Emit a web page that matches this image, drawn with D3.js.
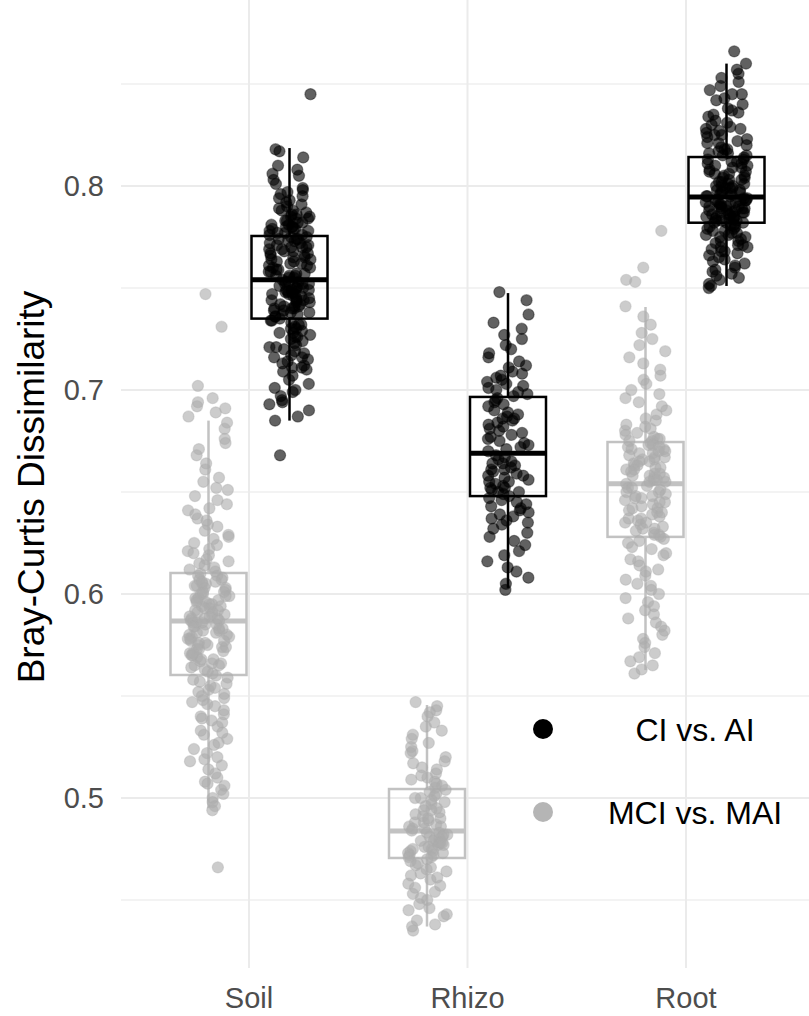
<!DOCTYPE html>
<html>
<head>
<meta charset="utf-8">
<script src="https://cdn.jsdelivr.net/npm/d3@7.9.0/dist/d3.min.js"></script>
<style>
  body { margin: 0; background: #fff; }
  svg { display: block; font-family: "Liberation Sans", Arial, sans-serif; }
</style>
</head>
<body>
<svg id="chart" width="809" height="1016"></svg>
<script>
const categories = ["Soil", "Rhizo", "Root"];
const groups = ["CI vs. AI", "MCI vs. MAI"];
const yTicks = [0.5, 0.6, 0.7, 0.8];
const yMinor = [0.45, 0.55, 0.65, 0.75, 0.85];

// box summaries (Soil, Rhizo, Root)
const ciLow = [0.685, 0.603, 0.751];
const ciQ1 = [0.735, 0.648, 0.782];
const ciMed = [0.754, 0.669, 0.7946];
const ciQ3 = [0.7755, 0.6966, 0.8142];
const ciHigh = [0.8186, 0.7475, 0.860];

const mciLow = [0.495, 0.437, 0.5627];
const mciQ1 = [0.5603, 0.4706, 0.628];
const mciMed = [0.5868, 0.4838, 0.654];
const mciQ3 = [0.6103, 0.5044, 0.6745];
const mciHigh = [0.685, 0.5456, 0.7407];

// individual pairwise dissimilarities (jittered points)
const soilMCI = [0.747, 0.731, 0.702, 0.696, 0.694, 0.692, 0.691, 0.689, 0.687, 0.684, 0.681, 0.676, 0.674, 0.671, 0.668, 0.664, 0.661, 0.657, 0.655, 0.652, 0.651, 0.648, 0.646, 0.644, 0.642, 0.641, 0.639, 0.637, 0.636, 0.634, 0.633, 0.631, 0.629, 0.628, 0.627, 0.625, 0.624, 0.622, 0.621, 0.620, 0.619, 0.617, 0.616, 0.615, 0.614, 0.613, 0.612, 0.611,
  0.610, 0.609, 0.609, 0.608, 0.607, 0.607, 0.606, 0.605, 0.605, 0.604, 0.603, 0.603, 0.602, 0.601, 0.601, 0.600, 0.600, 0.599, 0.598, 0.598, 0.597, 0.596, 0.596, 0.595, 0.595, 0.594, 0.593, 0.593, 0.592, 0.592, 0.591, 0.591, 0.590, 0.590, 0.589, 0.589, 0.588, 0.588, 0.588, 0.587, 0.587, 0.604, 0.599, 0.594, 0.606, 0.597,
  0.586, 0.586, 0.585, 0.585, 0.584, 0.584, 0.583, 0.582, 0.582, 0.581, 0.580, 0.580, 0.579, 0.578, 0.578, 0.577, 0.576, 0.576, 0.575, 0.574, 0.573, 0.573, 0.572, 0.571, 0.570, 0.570, 0.569, 0.568, 0.567, 0.566, 0.566, 0.565, 0.564, 0.563, 0.562, 0.561, 0.583, 0.579, 0.574, 0.568, 0.575, 0.581, 0.571, 0.565, 0.577, 0.586,
  0.560, 0.559, 0.558, 0.557, 0.556, 0.555, 0.553, 0.552, 0.551, 0.549, 0.548, 0.546, 0.545, 0.543, 0.541, 0.540, 0.538, 0.537, 0.535, 0.533, 0.531, 0.529, 0.527, 0.526, 0.524, 0.522, 0.520, 0.518, 0.516, 0.514, 0.512, 0.510, 0.508, 0.506, 0.504, 0.502, 0.500, 0.498, 0.496, 0.494, 0.466, 0.554, 0.547, 0.539, 0.532, 0.519, 0.507, 0.550];

const soilCI = [0.845, 0.818, 0.817, 0.814, 0.810, 0.808, 0.806, 0.805, 0.803, 0.801, 0.799, 0.797, 0.796, 0.794, 0.793, 0.791, 0.790, 0.789, 0.788, 0.787, 0.786, 0.785, 0.784, 0.784, 0.783, 0.782, 0.781, 0.781, 0.780, 0.780, 0.779, 0.779, 0.778, 0.778, 0.777, 0.777, 0.776, 0.776, 0.792, 0.786, 0.782, 0.798, 0.788, 0.783, 0.779, 0.795, 0.785, 0.780,
  0.775, 0.775, 0.774, 0.774, 0.773, 0.773, 0.772, 0.771, 0.771, 0.770, 0.770, 0.769, 0.768, 0.768, 0.767, 0.766, 0.766, 0.765, 0.764, 0.764, 0.763, 0.762, 0.762, 0.761, 0.760, 0.760, 0.759, 0.759, 0.758, 0.757, 0.757, 0.756, 0.756, 0.755, 0.755, 0.754, 0.772, 0.769, 0.765, 0.761, 0.758, 0.774, 0.767, 0.763, 0.756, 0.770,
  0.753, 0.753, 0.752, 0.752, 0.751, 0.751, 0.750, 0.750, 0.749, 0.749, 0.748, 0.748, 0.747, 0.747, 0.746, 0.745, 0.745, 0.744, 0.744, 0.743, 0.742, 0.742, 0.741, 0.741, 0.740, 0.740, 0.739, 0.739, 0.738, 0.737, 0.737, 0.736, 0.736, 0.735, 0.752, 0.749, 0.746, 0.743, 0.740, 0.738, 0.750, 0.747, 0.744, 0.741, 0.753, 0.748,
  0.734, 0.734, 0.733, 0.732, 0.732, 0.731, 0.730, 0.729, 0.728, 0.728, 0.727, 0.726, 0.725, 0.724, 0.723, 0.722, 0.721, 0.720, 0.719, 0.718, 0.717, 0.716, 0.715, 0.714, 0.713, 0.712, 0.711, 0.710, 0.709, 0.707, 0.705, 0.703, 0.701, 0.699, 0.697, 0.695, 0.693, 0.690, 0.687, 0.685, 0.668, 0.730, 0.726, 0.721, 0.716, 0.711, 0.700, 0.694];

const rhizoMCI = [0.547, 0.545, 0.543, 0.542, 0.540, 0.537, 0.535, 0.533, 0.531, 0.529, 0.527, 0.525, 0.523, 0.522, 0.520, 0.518, 0.517, 0.515, 0.514, 0.512, 0.511, 0.510, 0.509, 0.508, 0.507, 0.506, 0.505,
  0.504, 0.503, 0.502, 0.501, 0.500, 0.499, 0.498, 0.497, 0.496, 0.495, 0.494, 0.493, 0.492, 0.491, 0.490, 0.489, 0.488, 0.488, 0.487, 0.486, 0.486, 0.485, 0.485, 0.484, 0.500, 0.494, 0.490,
  0.483, 0.483, 0.482, 0.482, 0.481, 0.481, 0.480, 0.480, 0.479, 0.479, 0.478, 0.478, 0.477, 0.477, 0.476, 0.476, 0.475, 0.475, 0.474, 0.474, 0.473, 0.473, 0.472, 0.472, 0.471, 0.471, 0.478,
  0.470, 0.469, 0.468, 0.467, 0.466, 0.465, 0.464, 0.463, 0.462, 0.461, 0.460, 0.458, 0.457, 0.456, 0.454, 0.453, 0.451, 0.450, 0.448, 0.446, 0.445, 0.443, 0.442, 0.440, 0.438, 0.437, 0.435];

const rhizoCI = [0.748, 0.744, 0.737, 0.733, 0.730, 0.727, 0.725, 0.722, 0.720, 0.718, 0.716, 0.714, 0.712, 0.711, 0.709, 0.708, 0.707, 0.706, 0.705, 0.704, 0.703, 0.702, 0.701, 0.700, 0.699, 0.698, 0.697,
  0.696, 0.695, 0.694, 0.693, 0.692, 0.690, 0.689, 0.688, 0.687, 0.686, 0.685, 0.684, 0.683, 0.682, 0.681, 0.680, 0.679, 0.678, 0.677, 0.676, 0.675, 0.674, 0.673, 0.672, 0.671, 0.670, 0.686,
  0.668, 0.667, 0.666, 0.665, 0.664, 0.663, 0.662, 0.661, 0.661, 0.660, 0.659, 0.658, 0.658, 0.657, 0.656, 0.655, 0.655, 0.654, 0.653, 0.652, 0.652, 0.651, 0.650, 0.650, 0.649, 0.648, 0.664,
  0.647, 0.646, 0.645, 0.644, 0.643, 0.642, 0.641, 0.640, 0.639, 0.638, 0.637, 0.636, 0.635, 0.634, 0.632, 0.630, 0.628, 0.626, 0.624, 0.621, 0.619, 0.616, 0.613, 0.611, 0.608, 0.605, 0.602];

const rootMCI = [0.778, 0.760, 0.754, 0.753, 0.741, 0.736, 0.732, 0.728, 0.725, 0.722, 0.719, 0.716, 0.713, 0.710, 0.707, 0.705, 0.703, 0.700, 0.698, 0.696, 0.694, 0.692, 0.690, 0.688, 0.686, 0.685, 0.683, 0.682, 0.681, 0.680, 0.679, 0.678, 0.677, 0.676, 0.676, 0.675, 0.675,
  0.674, 0.673, 0.673, 0.672, 0.671, 0.671, 0.670, 0.669, 0.669, 0.668, 0.667, 0.667, 0.666, 0.665, 0.665, 0.664, 0.663, 0.663, 0.662, 0.661, 0.661, 0.660, 0.659, 0.659, 0.658, 0.657, 0.657, 0.656, 0.656, 0.655, 0.655, 0.654, 0.670, 0.666, 0.662, 0.658, 0.672,
  0.653, 0.652, 0.652, 0.651, 0.650, 0.649, 0.648, 0.647, 0.647, 0.646, 0.645, 0.644, 0.643, 0.642, 0.642, 0.641, 0.640, 0.639, 0.638, 0.637, 0.637, 0.636, 0.635, 0.634, 0.633, 0.632, 0.632, 0.631, 0.630, 0.629, 0.629, 0.628, 0.650, 0.645, 0.640, 0.635, 0.648,
  0.627, 0.626, 0.625, 0.623, 0.622, 0.620, 0.619, 0.617, 0.616, 0.614, 0.612, 0.611, 0.609, 0.607, 0.605, 0.604, 0.602, 0.600, 0.598, 0.596, 0.594, 0.592, 0.590, 0.588, 0.586, 0.584, 0.582, 0.580, 0.578, 0.576, 0.574, 0.571, 0.569, 0.567, 0.565, 0.563, 0.561];

const rootCI = [0.866, 0.860, 0.857, 0.855, 0.853, 0.851, 0.849, 0.847, 0.845, 0.843, 0.842, 0.840, 0.838, 0.837, 0.835, 0.834, 0.832, 0.831, 0.830, 0.829, 0.828, 0.827, 0.826, 0.825, 0.824, 0.823, 0.822, 0.821, 0.820, 0.819, 0.818, 0.818, 0.817, 0.816, 0.816, 0.815, 0.815, 0.836, 0.828, 0.821, 0.845, 0.825,
  0.814, 0.813, 0.813, 0.812, 0.811, 0.811, 0.810, 0.809, 0.809, 0.808, 0.807, 0.807, 0.806, 0.805, 0.805, 0.804, 0.803, 0.803, 0.802, 0.801, 0.801, 0.800, 0.800, 0.799, 0.799, 0.798, 0.798, 0.797, 0.797, 0.796, 0.796, 0.795, 0.795, 0.795, 0.810, 0.806, 0.802, 0.799, 0.812, 0.804, 0.800, 0.797,
  0.794, 0.794, 0.793, 0.793, 0.793, 0.792, 0.792, 0.791, 0.791, 0.790, 0.790, 0.790, 0.789, 0.789, 0.788, 0.788, 0.787, 0.787, 0.787, 0.786, 0.786, 0.785, 0.785, 0.785, 0.784, 0.784, 0.783, 0.783, 0.783, 0.782, 0.782, 0.782, 0.792, 0.789, 0.786, 0.784, 0.791, 0.788, 0.785, 0.793, 0.790, 0.787,
  0.781, 0.781, 0.780, 0.780, 0.779, 0.779, 0.778, 0.778, 0.777, 0.776, 0.776, 0.775, 0.775, 0.774, 0.773, 0.773, 0.772, 0.771, 0.771, 0.770, 0.769, 0.768, 0.768, 0.767, 0.766, 0.765, 0.764, 0.763, 0.762, 0.761, 0.760, 0.759, 0.758, 0.757, 0.756, 0.755, 0.754, 0.752, 0.751, 0.750, 0.777, 0.770];

const ciPoints = [soilCI, rhizoCI, rootCI];
const mciPoints = [soilMCI, rhizoMCI, rootMCI];

const svg = d3.select('#chart');
const W = 809, H = 1016;
const panel = { left: 121, right: 809, top: 0, bottom: 968 };

let x = d3.scalePoint().domain(categories).range([249, 686]);
let y = d3.scaleLinear().domain([0.5, 0.8]).range([798, 186]);
const dodge = 40.5, boxW = 76, jitterW = 21;

const style = {
  "CI vs. AI": { box: "#000", fill: "#000", fillOp: 0.62, side: 1 },
  "MCI vs. MAI": { box: "#c2c2c2", fill: "#adadad", fillOp: 0.62, side: -1 }
};

svg.append('rect').attr('width', W).attr('height', H).attr('fill', '#fff');

// grid
let grid = svg.append('g');
yMinor.forEach(v => {
  grid.append('line').attr('x1', panel.left).attr('x2', panel.right)
    .attr('y1', y(v)).attr('y2', y(v)).attr('stroke', '#efefef').attr('stroke-width', 1.3);
});
yTicks.forEach(v => {
  grid.append('line').attr('x1', panel.left).attr('x2', panel.right)
    .attr('y1', y(v)).attr('y2', y(v)).attr('stroke', '#ebebeb').attr('stroke-width', 2);
});
categories.forEach(c => {
  grid.append('line').attr('x1', x(c)).attr('x2', x(c))
    .attr('y1', panel.top).attr('y2', panel.bottom).attr('stroke', '#ebebeb').attr('stroke-width', 2);
});

// axis labels
svg.append('g').selectAll('text').data(yTicks).join('text')
  .attr('x', 104).attr('y', d => y(d)).attr('dy', '0.36em')
  .attr('text-anchor', 'end').attr('font-size', 29).attr('fill', '#4d4d4d')
  .text(d => d3.format('.1f')(d));

svg.append('g').selectAll('text').data(categories).join('text')
  .attr('x', d => x(d)).attr('y', 998).attr('dy', '0.36em')
  .attr('text-anchor', 'middle').attr('font-size', 29).attr('fill', '#4d4d4d')
  .text(d => d);

svg.append('text')
  .attr('transform', `translate(31, 487) rotate(-90)`)
  .attr('text-anchor', 'middle').attr('dy', '0.36em')
  .attr('font-size', 37).attr('fill', '#000')
  .text('Bray-Curtis Dissimilarity');

// fixed-seed jitter so the picture is stable between runs
const jitter = d3.randomUniform.source(d3.randomLcg(0.4217))(-jitterW, jitterW);

function drawGroup(name, low, q1, med, q3, high, pts) {
  let s = style[name];
  let g = svg.append('g');
  categories.forEach((c, i) => {
    let cx = x(c) + s.side * dodge;
    g.append('line').attr('x1', cx).attr('x2', cx).attr('y1', y(q3[i])).attr('y2', y(high[i]))
      .attr('stroke', s.box).attr('stroke-width', 2.5);
    g.append('line').attr('x1', cx).attr('x2', cx).attr('y1', y(q1[i])).attr('y2', y(low[i]))
      .attr('stroke', s.box).attr('stroke-width', 2.5);
    g.append('rect').attr('x', cx - boxW / 2).attr('width', boxW)
      .attr('y', y(q3[i])).attr('height', y(q1[i]) - y(q3[i]))
      .attr('fill', 'none').attr('stroke', s.box).attr('stroke-width', 2.5);
    g.append('line').attr('x1', cx - boxW / 2).attr('x2', cx + boxW / 2)
      .attr('y1', y(med[i])).attr('y2', y(med[i]))
      .attr('stroke', s.box).attr('stroke-width', 5);

    g.append('g').selectAll('circle').data(pts[i]).join('circle')
      .attr('cx', () => cx + jitter())
      .attr('cy', d => y(d))
      .attr('r', 5.6)
      .attr('fill', s.fill).attr('fill-opacity', s.fillOp)
      .attr('stroke', s.fill).attr('stroke-opacity', s.fillOp * 0.6).attr('stroke-width', 1.2);
  });
}

drawGroup("MCI vs. MAI", mciLow, mciQ1, mciMed, mciQ3, mciHigh, mciPoints);
drawGroup("CI vs. AI", ciLow, ciQ1, ciMed, ciQ3, ciHigh, ciPoints);

// legend
let legend = svg.append('g');
groups.forEach((gname, i) => {
  let ly = 729 + i * 83;
  legend.append('circle').attr('cx', 543).attr('cy', ly).attr('r', 10)
    .attr('fill', i === 0 ? '#000' : '#b5b5b5');
  legend.append('text').attr('x', 695).attr('y', ly).attr('dy', '0.36em')
    .attr('text-anchor', 'middle').attr('font-size', 32).attr('fill', '#000')
    .text(gname);
});
</script>
</body>
</html>
